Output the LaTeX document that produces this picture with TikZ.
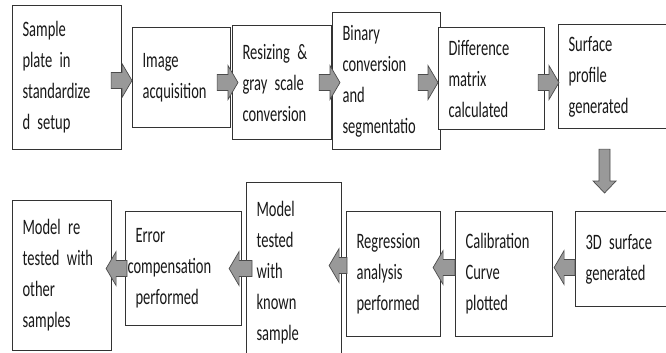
\documentclass[tikz,border=0pt]{standalone}
\usepackage{fontspec}
\setmainfont{Carlito}[FakeStretch=0.66]
\usetikzlibrary{calc}
\newcommand\stepfont{\fontsize{22}{31}\selectfont\spaceskip=3pt plus 1pt\relax}

\begin{document}
\begin{tikzpicture}[x=1pt,y=-1pt,
	box/.style 2 args={draw=black!80,line width=1.1pt,fill=white,anchor=north west,
		minimum width=#1pt,minimum height=#2pt,inner xsep=10pt,
		/utils/exec={\pgfmathsetmacro\boxtw{#1-12}},text width=\boxtw pt,align=left,
		font=\stepfont,text=black!90},
	flowarrow/.style n args={3}{draw=black!70,fill=black!40,line width=0.7pt,
		to path={($(\tikztostart)!#1!90:(\tikztotarget)$)
			-- ($(\tikztotarget)!#3!(\tikztostart)!#1!90:(\tikztotarget)$)
			-- ($(\tikztotarget)!#3!(\tikztostart)!#2!90:(\tikztotarget)$)
			-- (\tikztotarget)
			-- ($(\tikztotarget)!#3!(\tikztostart)!#2!-90:(\tikztotarget)$)
			-- ($(\tikztotarget)!#3!(\tikztostart)!#1!-90:(\tikztotarget)$)
			-- ($(\tikztostart)!#1!-90:(\tikztotarget)$) -- cycle}},
	bigarrow/.style={flowarrow={8pt}{17pt}{10pt}},
	smallarrow/.style={flowarrow={5.5pt}{11.5pt}{12pt}}]

	\clip (0,0) rectangle (666,353);

	% top row
	\node[box={101}{144}](sample) at (12,5) {Sample\\plate in\\standardize\\d setup};
	\node[box={90}{100}](acquisition) at (132,27) {Image\\acquisition};
	\node[box={91}{114}](resizing) at (232,25) {Resizing \&\\gray scale\\conversion};
	\node[box={100}{137}](binary) at (332,12) {Binary\\conversion\\and\\segmentatio};
	\node[box={98}{102}](difference) at (438,27) {Difference\\matrix\\calculated};
	\node[box={101}{104}](surface) at (558,24) {Surface\\profile\\generated};

	% bottom row
	\node[box={88}{95}](surface3d) at (575,211) {3D surface\\generated};
	\node[box={89}{125}](calibration) at (455,211) {Calibration\\Curve\\plotted};
	\node[box={86}{125}](regression) at (346,211) {Regression\\analysis\\performed};
	\node[box={87}{180}](modeltest) at (246,182) {Model\\tested\\with\\known\\sample};
	\node[box={108}{114}](errorcomp) at (125,211) {Error\\\hspace*{-8pt}compensation\\performed};
	\node[box={91}{150}](retest) at (12,200) {Model re\\tested with\\other\\samples};

	\coordinate (arr1a) at ($(sample.east)+(-11,3)$);
	\coordinate (arr1b) at (arr1a -| acquisition.west);
	\coordinate (arr2a) at ($(acquisition.east)+(-14,5)$);
	\coordinate (arr2b) at ($(arr2a -| resizing.west)+(6,0)$);
	\coordinate (arr3a) at ($(resizing.east)+(-13,0)$);
	\coordinate (arr3b) at ($(arr3a -| binary.west)+(8,0)$);
	\coordinate (arr4a) at ($(binary.east)+(-23,1.5)$);
	\coordinate (arr4b) at (arr4a -| difference.west);
	\coordinate (arr5a) at ($(difference.east)+(-7,4)$);
	\coordinate (arr5b) at ($(arr5a -| surface.west)+(1,0)$);
	\coordinate (downa) at ($(surface.south)+(-8.5,20)$);
	\coordinate (downb) at ($(downa |- surface3d.north)+(0,-18)$);
	\coordinate (arr6a) at ($(surface3d.west)+(0,8.5)$);
	\coordinate (arr6b) at ($(arr6a -| calibration.east)+(1,0)$);
	\coordinate (arr7a) at ($(calibration.west)+(0,-6.5)$);
	\coordinate (arr7b) at ($(arr7a -| regression.east)+(-8,0)$);
	\coordinate (arr8a) at ($(regression.west)+(1,-8.5)$);
	\coordinate (arr8b) at ($(arr8a -| modeltest.east)+(-13,0)$);
	\coordinate (arr9a) at ($(modeltest.west)+(6,-4)$);
	\coordinate (arr9b) at ($(arr9a -| errorcomp.east)+(-13,0)$);
	\coordinate (arr10a) at ($(errorcomp.west)+(2,0)$);
	\coordinate (arr10b) at ($(arr10a -| retest.east)+(-6,0)$);

	\draw[bigarrow] (arr1a) to (arr1b);
	\draw[bigarrow] (arr2a) to (arr2b);
	\draw[bigarrow] (arr3a) to (arr3b);
	\draw[bigarrow] (arr4a) to (arr4b);
	\draw[bigarrow] (arr5a) to (arr5b);
	\draw[smallarrow] (downa) to (downb);
	\draw[bigarrow] (arr6a) to (arr6b);
	\draw[bigarrow] (arr7a) to (arr7b);
	\draw[bigarrow] (arr8a) to (arr8b);
	\draw[bigarrow] (arr9a) to (arr9b);
	\draw[bigarrow] (arr10a) to (arr10b);

\end{tikzpicture}
\end{document}
